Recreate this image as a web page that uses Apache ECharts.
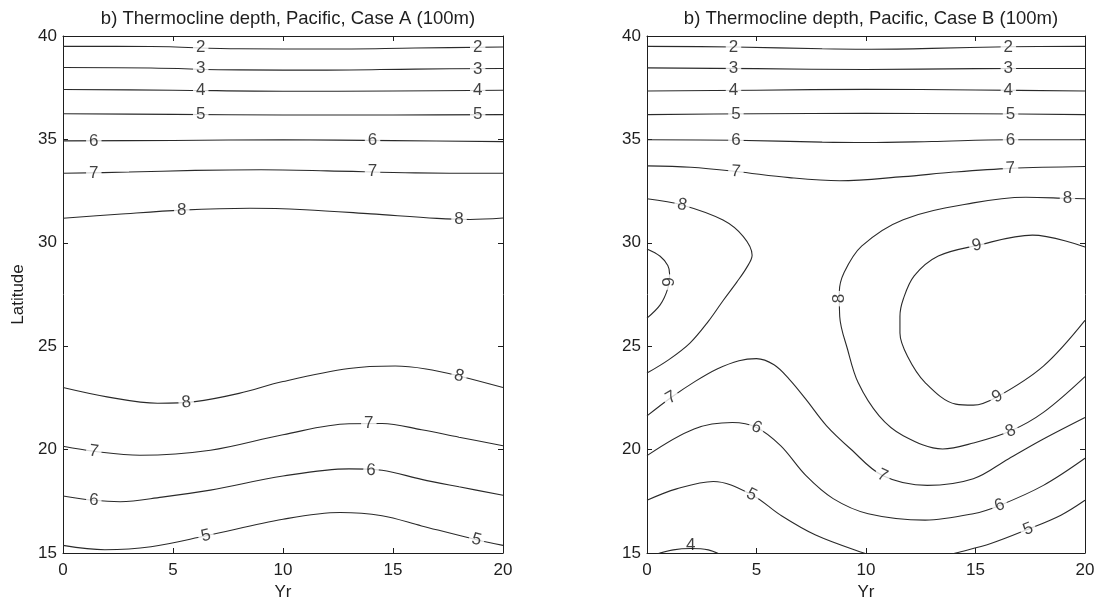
<!DOCTYPE html>
<html><head><meta charset="utf-8">
<script src="https://cdn.jsdelivr.net/npm/echarts@6/dist/echarts.min.js"></script>
<style>html,body{margin:0;padding:0;background:#fff}#c{width:1103px;height:609px}</style>
</head><body><div id="c"></div>
<script>
// ---------- data (Yr, Latitude) ----------
const titles = ['b) Thermocline depth, Pacific, Case A (100m)', 'b) Thermocline depth, Pacific, Case B (100m)'];
const xTickStep = 5, yTickStep = 5;
const xRange = [0, 20], yRange = [15, 40];

// Case A contours
const A2 = [[0,39.5],[4,39.49],[8,39.38],[12,39.37],[16,39.42],[20,39.47]];
const A3 = [[0,38.48],[4,38.45],[8,38.36],[12,38.35],[16,38.4],[20,38.43]];
const A4 = [[0,37.41],[5,37.38],[10,37.33],[15,37.34],[20,37.38]];
const A5 = [[0,36.24],[5,36.21],[10,36.18],[15,36.18],[20,36.2]];
const A6 = [[0,34.93],[5,34.95],[10,34.98],[15,34.94],[20,34.89]];
const A7 = [[0,33.36],[3,33.42],[6,33.5],[9,33.53],[12,33.48],[16,33.38],[20,33.36]];
const A8top = [[0,31.19],[2.5,31.38],[5.4,31.58],[8.5,31.67],[11,31.6],[14,31.4],[17,31.18],[18.5,31.13],[20,31.2]];
const A8low = [[0,23.0],[2,22.55],[4.3,22.24],[6,22.32],[8,22.72],[10,23.29],[13,23.92],[15.1,24.04],[16.5,23.9],[18,23.56],[20,23.0]];
const A7low = [[0,20.16],[1.4,19.92],[3.5,19.73],[6.7,19.97],[10,20.72],[13,21.25],[14.5,21.26],[16.3,20.96],[18,20.6],[20,20.19]];
const A6low = [[0,17.76],[1.4,17.55],[2.6,17.48],[4.5,17.7],[6.7,18.04],[10,18.72],[13,19.07],[14.5,19.0],[16.3,18.56],[18,18.2],[20,17.79]];
const A5low = [[0,15.37],[1.9,15.16],[4,15.3],[6.5,15.83],[10,16.63],[12.6,16.96],[14.5,16.8],[16.3,16.31],[18.8,15.64],[20,15.37]];
const caseALines = [A2,A3,A4,A5,A6,A7,A8top,A8low,A7low,A6low,A5low];
// Case A labels: [Yr, Lat, text, rotation]
const caseALabels = [
  [6.26,39.45,'2',0],[18.85,39.45,'2',0],
  [6.26,38.42,'3',0],[18.85,38.41,'3',0],
  [6.26,37.37,'4',0],[18.85,37.37,'4',0],
  [6.26,36.21,'5',0],[18.85,36.2,'5',0],
  [1.4,34.93,'6',0],[14.07,34.95,'6',0],
  [1.4,33.38,'7',0],[14.07,33.45,'7',0],
  [5.4,31.58,'8',0],[18.0,31.14,'8',0],
  [5.6,22.28,'8',5],[18.0,23.56,'8',-15],
  [1.4,19.92,'7',-8],[13.9,21.28,'7',0],
  [1.4,17.55,'6',-5],[14.0,19.0,'6',-3],
  [6.5,15.83,'5',14],[18.8,15.64,'5',-15]
];

// Case B contours
const B2 = [[0,39.5],[4,39.47],[8,39.38],[10,39.36],[13,39.4],[16.5,39.48],[20,39.5]];
const B3 = [[0,38.46],[5,38.42],[10,38.38],[15,38.42],[20,38.43]];
const B4 = [[0,37.34],[5,37.38],[10,37.42],[15,37.39],[20,37.34]];
const B5 = [[0,36.2],[5,36.24],[10,36.26],[15,36.24],[20,36.2]];
const B6 = [[0,34.98],[4,34.96],[8,34.87],[10,34.85],[13,34.9],[16.5,34.98],[20,34.98]];
const B7 = [[0,33.72],[2,33.65],[4.06,33.45],[6.5,33.15],[8.8,33.0],[11.7,33.2],[14,33.42],[16.6,33.6],[20,33.69]];
const B8left = [[0,32.13],[1.6,31.83],[3.47,31.1],[4.4,30.3],[4.8,29.4],[4.55,28.8],[4.1,28.1],[3.47,27.2],[2.8,26.2],[1.96,25.15],[1.0,24.35],[0,23.7]];
const B9left = [[0,29.7],[0.6,29.35],[0.95,28.9],[1.03,28.5],[0.95,27.8],[0.6,27.0],[0,26.36]];
const B8right = [[20,32.13],[19.2,32.15],[17.3,32.2],[14.9,31.93],[11.7,31.12],[9.8,29.84],[9.0,28.56],[8.78,27.6],[8.8,26.44],[9.16,24.84],[9.64,23.24],[10.6,21.63],[11.7,20.67],[13.5,20.03],[14.9,20.32],[16.6,20.9],[18.1,21.8],[20,23.53]];
const B9right = [[20,29.8],[17.6,30.37],[15.06,29.87],[13.3,29.36],[12.2,28.4],[11.7,27.27],[11.55,26.44],[11.55,25.64],[11.9,24.5],[12.7,23.24],[14.1,22.2],[14.9,22.15],[16.0,22.56],[18.1,24.04],[20,26.25]];
const B7low = [[0,21.63],[1.1,22.52],[2.2,23.3],[3.2,23.9],[4.2,24.3],[5.0,24.4],[5.8,24.1],[6.5,23.4],[7.25,22.44],[8.2,21.15],[9.3,20.03],[10.75,18.75],[12.8,18.27],[14.9,18.59],[16.5,19.55],[18.1,20.51],[20,21.55]];
const B6low = [[0,19.71],[2.15,21.0],[3.9,21.31],[5.0,21.07],[6.1,20.19],[7.25,18.75],[8.5,17.63],[10.1,16.9],[12.7,16.59],[14.9,16.9],[16.1,17.3],[18.1,18.27],[20,19.58]];
const B5lowA = [[0,17.55],[1.35,18.1],[3.03,18.46],[4.78,17.82],[6.1,16.83],[7.7,15.87],[9.9,15.0],[10.6,14.8]];
const B5lowB = [[13.4,14.8],[14.1,15.0],[15.7,15.46],[17.4,16.15],[18.9,16.83],[20,17.55]];
const B4low = [[0.3,14.9],[1.2,15.15],[2.0,15.22],[2.8,15.15],[3.4,14.9]];
const caseBLines = [B2,B3,B4,B5,B6,B7,B8left,B9left,B8right,B9right,B7low,B6low,B5lowA,B5lowB,B4low];
const caseBLabels = [
  [3.95,39.47,'2',0],[16.5,39.47,'2',0],
  [3.95,38.43,'3',0],[16.5,38.42,'3',0],
  [3.95,37.37,'4',0],[16.5,37.38,'4',0],
  [4.06,36.22,'5',0],[16.6,36.23,'5',0],
  [4.06,34.97,'6',0],[16.6,34.97,'6',0],
  [4.06,33.45,'7',-5],[16.6,33.6,'7',3],
  [1.6,31.83,'8',-12],[19.2,32.15,'8',0],
  [1.0,28.1,'9',90],[15.06,29.87,'9',13],
  [8.78,27.3,'8',90],[16.0,22.56,'9',29],
  [16.6,20.9,'8',24],[1.1,22.52,'7',30],
  [5.0,21.07,'6',-26],[10.75,18.75,'7',-25],
  [4.78,17.82,'5',-27],[16.1,17.3,'6',22],
  [17.4,16.15,'5',22],[2.0,15.35,'4',0]
];

// ---------- chart ----------
const FONT = '"Liberation Sans", Arial, Helvetica, sans-serif';
const INK = '#1e1e1e';
const grids = [
  {left:63, top:36, width:440, height:517},
  {left:647, top:36, width:438, height:517}
];
const xAxes = [], yAxes = [];
grids.forEach((g, gi) => {
  const tick = {show:true, inside:true, length:5, lineStyle:{color:INK, width:1}};
  const line = {show:true, onZero:false, lineStyle:{color:INK, width:1}};
  xAxes.push({type:'value', gridIndex:gi, position:'bottom', min:xRange[0], max:xRange[1], interval:xTickStep,
    axisLine:line, axisTick:tick, splitLine:{show:false},
    axisLabel:{color:INK, fontSize:17, fontFamily:FONT, margin:9},
    name:'Yr', nameLocation:'middle', nameGap:30, nameTextStyle:{color:INK, fontSize:17, fontFamily:FONT}});
  xAxes.push({type:'value', gridIndex:gi, position:'top', min:xRange[0], max:xRange[1], interval:xTickStep,
    axisLine:line, axisTick:tick, splitLine:{show:false}, axisLabel:{show:false}});
  const yl = {type:'value', gridIndex:gi, position:'left', min:yRange[0], max:yRange[1], interval:yTickStep,
    axisLine:line, axisTick:tick, splitLine:{show:false},
    axisLabel:{color:INK, fontSize:17, fontFamily:FONT, margin:6}};
  if (gi === 0) Object.assign(yl, {name:'Latitude', nameLocation:'middle', nameGap:36,
    nameTextStyle:{color:INK, fontSize:17, fontFamily:FONT}});
  yAxes.push(yl);
  yAxes.push({type:'value', gridIndex:gi, position:'right', min:yRange[0], max:yRange[1], interval:yTickStep,
    axisLine:line, axisTick:tick, splitLine:{show:false}, axisLabel:{show:false}});
});

const series = [];
[caseALines, caseBLines].forEach((lines, gi) => {
  lines.forEach(pts => series.push({
    type:'line', xAxisIndex:gi*2, yAxisIndex:gi*2, data:pts, smooth:0.35,
    showSymbol:false, symbol:'none', silent:true, clip:true, z:2,
    lineStyle:{color:'#2a2a2a', width:1.1}
  }));
});
[caseALabels, caseBLabels].forEach((labs, gi) => {
  series.push({
    type:'scatter', xAxisIndex:gi*2, yAxisIndex:gi*2, symbolSize:1, silent:true, z:5,
    itemStyle:{color:'rgba(0,0,0,0)'},
    data: labs.map(l => ({value:[l[0], l[1]], name:l[2],
      label:{rotate:l[3], backgroundColor: l[1] < 15.6 ? 'transparent' : '#fff'}})),
    label:{show:true, position:'inside', formatter:'{b}', color:'#111', fontSize:17, fontFamily:FONT,
      padding:[0,3], lineHeight:17}
  });
});

const chart = echarts.init(document.getElementById('c'), null, {renderer:'canvas'});
chart.setOption({
  animation:false,
  backgroundColor:'#fff',
  title: titles.map((t, i) => ({text:t, left: grids[i].left + grids[i].width/2, top:4, textAlign:'center',
    textStyle:{color:INK, fontSize:18.5, fontWeight:'normal', fontFamily:FONT}})),
  grid: grids,
  xAxis: xAxes,
  yAxis: yAxes,
  series: series
});
</script>
</body></html>
